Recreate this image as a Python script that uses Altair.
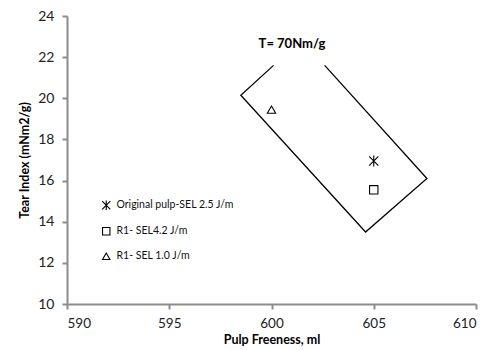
import altair as alt
import pandas as pd

# Data points
series = ["Original pulp-SEL 2.5 J/m", "R1- SEL4.2 J/m", "R1- SEL 1.0 J/m"]
freeness = [605.0, 605.0, 600.0]
tear = [16.95, 15.55, 19.45]

# Outline polygon (top corner hidden behind the label)
poly_x = [600.1, 598.5, 604.6, 607.6, 602.6]
poly_y = [21.6, 20.15, 13.5, 16.1, 21.6]

label_text = ["T= 70Nm/g"]
label_x = [601.0]
label_y = [22.65]

asterisk = "M-1.1,-1.1L1.1,1.1M-1.1,1.1L1.1,-1.1M0,-1.3L0,1.3"
shapes = [asterisk, "square", "triangle-up"]

pts = pd.DataFrame({"series": series, "x": freeness, "y": tear})
poly = pd.DataFrame({"x": poly_x, "y": poly_y, "o": list(range(len(poly_x)))})
lab = pd.DataFrame({"t": label_text, "x": label_x, "y": label_y})

FONT = "Lato"

xs = alt.Scale(domain=[590, 610], nice=False, zero=False)
ys = alt.Scale(domain=[10, 24], nice=False, zero=False)

xax = alt.Axis(title="Pulp Freeness, ml", values=[590, 595, 600, 605, 610], grid=False,
               domainColor="#8c8c8c", domainWidth=2, tickColor="#8c8c8c", tickWidth=2, tickSize=5,
               labelFont=FONT, labelFontSize=13.5, labelColor="#222", labelPadding=7,
               titleFont=FONT, titleFontSize=12.5, titleFontWeight="bold", titleColor="#000",
               titleY=29, titleBaseline="top")
yax = alt.Axis(title="Tear Index (mNm2/g)", values=[10, 12, 14, 16, 18, 20, 22, 24], grid=False,
               domainColor="#8c8c8c", domainWidth=2, tickColor="#8c8c8c", tickWidth=2, tickSize=5,
               labelFont=FONT, labelFontSize=14, labelColor="#222", labelPadding=8,
               titleFont=FONT, titleFontSize=12.5, titleFontWeight="bold", titleColor="#000", titlePadding=6)

outline = alt.Chart(poly).mark_line(color="black", strokeWidth=1.3).encode(
    x=alt.X("x:Q", scale=xs, axis=xax),
    y=alt.Y("y:Q", scale=ys, axis=yax),
    order="o:O",
)

points = alt.Chart(pts).mark_point(filled=False, color="black", strokeWidth=1.1, size=70, opacity=1).encode(
    x=alt.X("x:Q", scale=xs),
    y=alt.Y("y:Q", scale=ys),
    shape=alt.Shape("series:N", sort=series,
                    scale=alt.Scale(domain=series, range=shapes),
                    legend=alt.Legend(title=None, orient="none", legendX=34, legendY=184,
                                      labelFont=FONT, labelFontSize=10.5, labelColor="#111",
                                      symbolStrokeColor="black", symbolFillColor="transparent",
                                      symbolStrokeWidth=1.1, symbolSize=55, rowPadding=12,
                                      labelOffset=5)),
)

text = alt.Chart(lab).mark_text(font=FONT, fontSize=13, fontWeight="bold", color="black").encode(
    x=alt.X("x:Q", scale=xs),
    y=alt.Y("y:Q", scale=ys),
    text="t:N",
)

chart = alt.layer(outline, points, text).properties(
    width=409, height=288,
    autosize=alt.AutoSizeParams(type="none"),
    padding={"left": 59, "top": 8, "right": 10, "bottom": 44},
).configure_view(stroke=None)

chart.save("out.html", embed_options={"renderer": "svg", "actions": False})
